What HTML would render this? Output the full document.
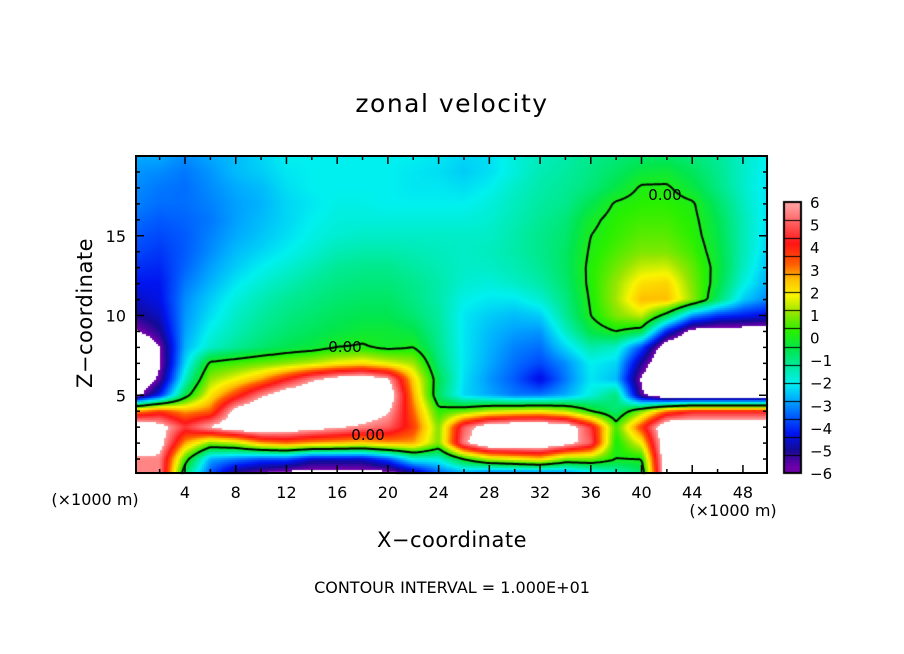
<!DOCTYPE html>
<html><head><meta charset="utf-8"><style>
body{margin:0;background:#fff;}
#wrap{position:relative;width:904px;height:654px;overflow:hidden;font-family:"DejaVu Sans","Liberation Sans",sans-serif;}
canvas{position:absolute;left:0;top:0;}
svg{position:absolute;left:0;top:0;}
</style></head><body>
<div id="wrap">
<canvas id="cv" width="904" height="654"></canvas>
<svg id="sv" width="904" height="654"></svg>
</div>
<script>
// x categories (km) and z levels (km)
const xVals=[0,2,4,6,8,10,12,14,16,18,20,22,24,26,28,30,32,34,36,38,40,42,44,46,48,50];
const zVals=[20,19,18,17,16,15,14,13,12,11,10,9,8,7,6,5,4,3,2,1,0];
const xTicks=[4,8,12,16,20,24,28,32,36,40,44,48];
const zTicks=[5,10,15];
const cbLabels=[6,5,4,3,2,1,0,-1,-2,-3,-4,-5,-6];
const field=[
[-3,-3,-3.3,-3,-2.8,-2.5,-2.2,-2.2,-2.2,-2.2,-2.2,-2.2,-2.3,-2.5,-2.4,-2,-1.7,-1.5,-1.2,-1,-0.8,-0.8,-1,-1.3,-1.8,-2.2],
[-3.2,-3.3,-3.5,-3.2,-2.8,-2.6,-2.3,-2.2,-2.2,-2.2,-2.2,-2.3,-2.4,-2.6,-2.4,-2,-1.6,-1.4,-1.1,-0.8,-0.4,-0.3,-0.7,-1.2,-1.8,-2.3],
[-3.3,-3.5,-3.6,-3.3,-3,-2.8,-2.4,-2.2,-2.2,-2.2,-2.2,-2.3,-2.3,-2.4,-2.2,-1.8,-1.5,-1.3,-1,-0.5,0.1,0.1,-0.4,-1.1,-1.8,-2.4],
[-3.4,-3.6,-3.6,-3.4,-3.1,-2.9,-2.5,-2.3,-2.1,-2.1,-2.2,-2.2,-2.2,-2.2,-2,-1.7,-1.4,-1.2,-0.6,0.1,0.3,0.3,0.1,-0.8,-1.7,-2.4],
[-3.6,-3.8,-3.7,-3.5,-3.1,-2.8,-2.5,-2.2,-2,-2,-2,-2,-2,-2,-1.9,-1.6,-1.3,-1,-0.2,0.3,0.5,0.5,0.2,-0.6,-1.6,-2.4],
[-3.8,-4,-3.8,-3.4,-3,-2.7,-2.4,-2.1,-1.9,-1.8,-1.8,-1.8,-1.8,-1.8,-1.8,-1.5,-1.2,-0.9,0,0.4,0.7,0.7,0.3,-0.5,-1.6,-2.5],
[-4,-4.2,-3.8,-3.3,-2.8,-2.5,-2.2,-1.9,-1.6,-1.5,-1.5,-1.6,-1.7,-1.8,-1.7,-1.5,-1.2,-0.8,0.1,0.6,1,1,0.5,-0.4,-1.6,-2.6],
[-4.3,-4.4,-3.7,-3.1,-2.6,-2.2,-1.9,-1.6,-1.3,-1.2,-1.2,-1.4,-1.6,-1.8,-1.8,-1.6,-1.3,-0.8,0.2,0.9,1.6,1.7,0.8,-0.3,-1.7,-2.8],
[-4.6,-4.6,-3.5,-2.9,-2.3,-1.9,-1.6,-1.3,-1.1,-1,-1,-1.2,-1.5,-1.9,-2,-1.8,-1.5,-0.9,0.2,1.2,2.3,2.5,1,-0.4,-2,-3],
[-5,-4.7,-3.3,-2.6,-2,-1.6,-1.3,-1.1,-0.9,-0.8,-0.8,-1.1,-1.5,-2.1,-2.3,-2.3,-1.9,-1.1,0.1,1.3,2.8,2.8,1.2,-0.8,-2.6,-3.4],
[-5.5,-5,-3.2,-2.4,-1.8,-1.4,-1.1,-0.9,-0.7,-0.6,-0.6,-0.9,-1.4,-2.3,-2.6,-2.8,-2.6,-1.3,0,1,1.6,-0.5,-3.2,-4.2,-4.5,-4.8],
[-6.5,-5.5,-3.1,-2.1,-1.6,-1.2,-0.9,-0.7,-0.5,-0.3,-0.3,-0.5,-1.3,-2.3,-2.8,-3.1,-3.2,-1.8,-0.5,0,-0.5,-4.5,-6.8,-7,-7,-7],
[-8,-6.3,-2.9,-1.8,-1.3,-0.9,-0.6,-0.4,0,0.1,-0.2,0,-1.2,-2.3,-2.9,-3.4,-3.6,-2.5,-1.5,-1.8,-4,-7.5,-8,-8,-8,-8],
[-8,-6.5,-2.5,0.2,0.5,0.8,1.1,1.5,2,2.3,1.8,1.3,-1,-2.3,-3,-3.6,-4,-3.3,-2.2,-2.5,-5.5,-8,-8,-8,-8,-8],
[-8,-6,-1.8,1.2,2,3,4.5,6,7,7.5,6.5,2.5,-0.6,-2.4,-3.2,-3.8,-4.8,-3.5,-2.3,-2.8,-6.5,-8,-9,-9,-9,-8],
[-7,-4.5,-0.5,2.2,4,6,7.5,8,8.5,8.5,7.5,3,-0.8,-2.5,-3,-3.5,-3.5,-3,-2,-1,-6,-8,-8,-8,-8,-8],
[3,4,3,3.5,7,8,8,8,8,7.5,6.5,3.5,0.3,0.8,1.5,1.8,2,1.5,0,-1,1,3.5,4.5,4.5,4.5,4.5],
[8,7,5,6.5,7.5,8,7.5,7,6.5,6,5.5,4,1,5.5,7.5,8,8,7.5,5,0.5,4,8,8,8,8,8],
[8,7,3,1,1.5,3,3.5,3,2.8,2.5,3,3,1,6,8,8,8,7,5.5,0,2,8,8,8,8,8],
[6,6,0.5,-3,-3.5,-4,-4,-5,-5,-5,-4,-2,-2,0,1.5,2,2.5,1,1,0,0,8,8,8,8,8],
[6,6,-1,-4,-6,-6.5,-7,-7,-7,-7,-7,-6,-4,-3.5,-4.5,-4.5,-4.5,-4,-3,-2,-1,8,8,8,8,8]
];

const L=136,R=767,T=156,B=473;
const xs=x=>134.3+12.68*x;
const zs=z=>475-15.95*z;
const xinv=p=>(p-134.3)/12.68;
const zinv=p=>(475-p)/15.95;

const stops=[[6.5,[255,170,170]],[5.5,[255,95,95]],[4.5,[255,20,20]],[3.5,[255,95,0]],[2.8,[255,190,0]],[2.0,[250,245,0]],[1.2,[150,230,0]],[0.3,[40,240,0]],[-0.6,[0,230,80]],[-1.5,[0,235,170]],[-2.2,[0,240,240]],[-3.0,[0,170,255]],[-3.8,[0,90,255]],[-4.6,[0,20,240]],[-5.4,[20,10,150]],[-6.2,[110,0,170]]];
function cmap(v){
  if(v>6.3||v<-6.3) return [255,255,255];
  if(v>=stops[0][0]) return stops[0][1];
  for(let i=0;i<stops.length-1;i++){
    const a=stops[i],b=stops[i+1];
    if(v<=a[0]&&v>=b[0]){const t=(a[0]-v)/(a[0]-b[0]);return a[1].map((c,k)=>Math.round(c+(b[1][k]-c)*t));}
  }
  return stops[stops.length-1][1];
}
function sample(x,z){
  const fx=Math.max(0,Math.min(xVals.length-1.0001,x/2));
  const fz=Math.max(0,Math.min(zVals.length-1.0001,(20-z)));
  const i=Math.floor(fx),j=Math.floor(fz),u=fx-i,w=fz-j;
  const a=field[j][i],b=field[j][i+1],c=field[j+1][i],d=field[j+1][i+1];
  return a*(1-u)*(1-w)+b*u*(1-w)+c*(1-u)*w+d*u*w;
}
const ctx=document.getElementById('cv').getContext('2d');
const S=2;
const nx=Math.ceil((R-L)/S),nz=Math.ceil((B-T)/S);
const vals=[];
for(let j=0;j<=nz;j++){vals.push([]);for(let i=0;i<=nx;i++){vals[j].push(sample(xinv(L+i*S),zinv(T+j*S)));}}
for(let j=0;j<nz;j++)for(let i=0;i<nx;i++){
  const v=(vals[j][i]+vals[j][i+1]+vals[j+1][i]+vals[j+1][i+1])/4;
  const c=cmap(v);ctx.fillStyle='rgb('+c.join(',')+')';
  ctx.fillRect(L+i*S,T+j*S,S,S);
}
// zero contour via marching squares
ctx.strokeStyle='#000';ctx.lineWidth=2;ctx.beginPath();
function ip(a,b){return a/(a-b);}
for(let j=0;j<nz;j++)for(let i=0;i<nx;i++){
  const a=vals[j][i],b=vals[j][i+1],c=vals[j+1][i+1],d=vals[j+1][i];
  const pts=[];
  if((a>0)!==(b>0))pts.push([L+(i+ip(a,b))*S,T+j*S]);
  if((b>0)!==(c>0))pts.push([L+(i+1)*S,T+(j+ip(b,c))*S]);
  if((d>0)!==(c>0))pts.push([L+(i+ip(d,c))*S,T+(j+1)*S]);
  if((a>0)!==(d>0))pts.push([L+i*S,T+(j+ip(a,d))*S]);
  if(pts.length>=2){ctx.moveTo(pts[0][0],pts[0][1]);ctx.lineTo(pts[1][0],pts[1][1]);}
  if(pts.length===4){ctx.moveTo(pts[2][0],pts[2][1]);ctx.lineTo(pts[3][0],pts[3][1]);}
}
ctx.stroke();
// colorbar
const CB={x:784,y:202,w:17,h:271};
for(let p=0;p<CB.h;p++){
  const v=6.5-13*(p+0.5)/CB.h;const c=cmap(Math.max(-6.2,Math.min(6.3,v)));
  ctx.fillStyle='rgb('+c.join(',')+')';ctx.fillRect(CB.x,CB.y+p,CB.w,1);
}
ctx.fillStyle='#000';
for(let k=1;k<15;k++){ctx.fillRect(CB.x,Math.round(CB.y+k*CB.h/15),CB.w,1);}
ctx.lineWidth=2;ctx.strokeRect(CB.x,CB.y,CB.w,CB.h);

const NS='http://www.w3.org/2000/svg';
const sv=document.getElementById('sv');
function add(tag,attrs,txt){const e=document.createElementNS(NS,tag);for(const k in attrs)e.setAttribute(k,attrs[k]);if(txt!==undefined)e.textContent=txt;sv.appendChild(e);return e;}
let e;
e=add('rect',{x:L,y:T,width:R-L,height:B-T,fill:'none',stroke:'#000','stroke-width':2});


for(let x=2;x<50;x+=2){
  const major=x%4===0,len=major?8:4;
  e=add('line',{x1:xs(x),x2:xs(x),y1:B,y2:B-len,stroke:'#000','stroke-width':1.5});
  
  
  e=add('line',{x1:xs(x),x2:xs(x),y1:T,y2:T+len,stroke:'#000','stroke-width':1.5});
  
  
}
for(let z=1;z<20;z++){
  const major=z%5===0,len=major?8:4;
  e=add('line',{x1:L,x2:L+len,y1:zs(z),y2:zs(z),stroke:'#000','stroke-width':1.5});
  
  
  e=add('line',{x1:R,x2:R-len,y1:zs(z),y2:zs(z),stroke:'#000','stroke-width':1.5});
  
  
}
xTicks.forEach(t=>{
  e=add('text',{x:xs(t),y:498,'font-size':16,'text-anchor':'middle'},String(t));
  
  
});
zTicks.forEach(t=>{
  e=add('text',{x:126,y:zs(t)+6,'font-size':16,'text-anchor':'end'},String(t));
  
  
});
cbLabels.forEach((t,k)=>{
  e=add('text',{x:810,y:CB.y+k*CB.h/12+6,'font-size':15},t<0?'\u2212'+(-t):String(t));
  
  
});
e=add('text',{x:452,y:112,'font-size':25,'text-anchor':'middle','letter-spacing':'1.5'},'zonal velocity');


e=add('text',{x:452,y:547,'font-size':21,'text-anchor':'middle','letter-spacing':'0.5'},'X\u2212coordinate');


e=add('text',{x:0,y:0,'font-size':21,'text-anchor':'middle','letter-spacing':'0.5',transform:'translate(92,313) rotate(-90)'},'Z\u2212coordinate');


e=add('text',{x:452,y:593,'font-size':16,'text-anchor':'middle'},'CONTOUR INTERVAL = 1.000E+01');


e=add('text',{x:95,y:505,'font-size':16,'text-anchor':'middle'},'(\u00d71000 m)');


e=add('text',{x:733,y:516,'font-size':16,'text-anchor':'middle'},'(\u00d71000 m)');


[[345,352,'0.00'],[368,440,'0.00'],[665,200,'0.00']].forEach(p=>{
  e=add('text',{x:p[0],y:p[1],'font-size':15,'text-anchor':'middle'},p[2]);
  
  
});
</script>
</body></html>
